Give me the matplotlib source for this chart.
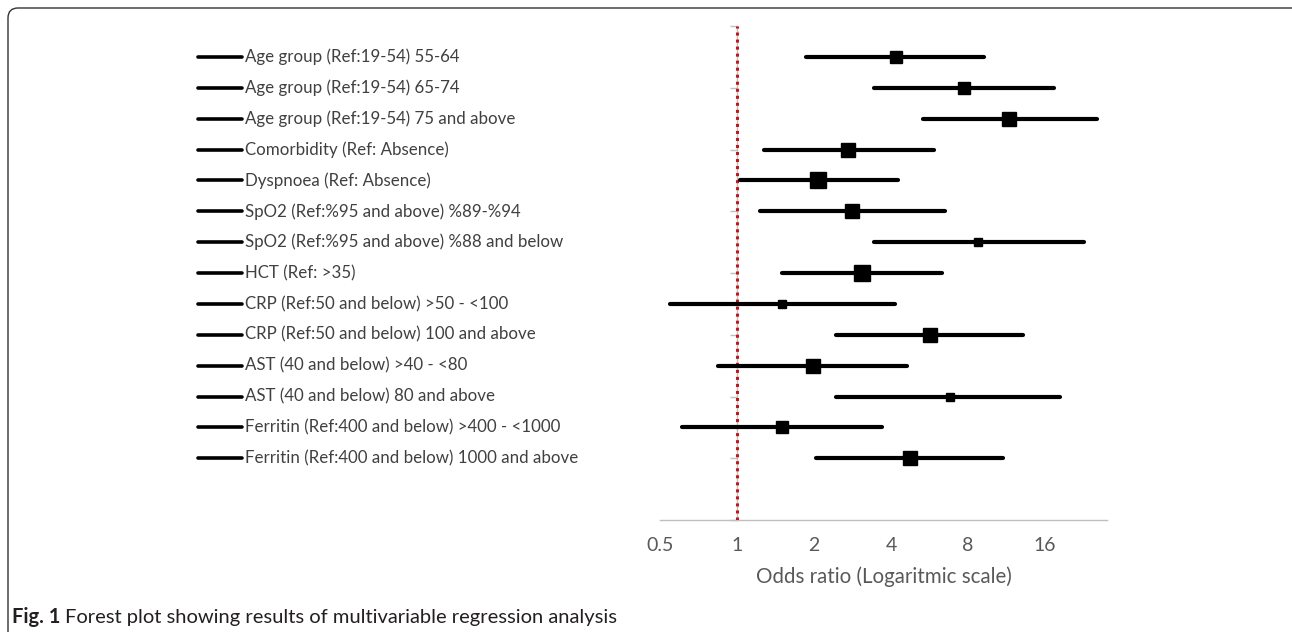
import numpy as np
import matplotlib
matplotlib.use("Agg")
import matplotlib.pyplot as plt
import matplotlib.transforms as mtransforms
from matplotlib.patches import FancyBboxPatch
from matplotlib.ticker import FixedLocator, NullFormatter

plt.rcParams['font.family'] = ['Lato', 'DejaVu Sans']

# data
labels = [
    "Age group (Ref:19-54) 55-64",
    "Age group (Ref:19-54) 65-74",
    "Age group (Ref:19-54) 75 and above",
    "Comorbidity (Ref: Absence)",
    "Dyspnoea (Ref: Absence)",
    "SpO2 (Ref:%95 and above) %89-%94",
    "SpO2 (Ref:%95 and above) %88 and below",
    "HCT (Ref: >35)",
    "CRP (Ref:50 and below) >50 - <100",
    "CRP (Ref:50 and below) 100 and above",
    "AST (40 and below) >40 - <80",
    "AST (40 and below) 80 and above",
    "Ferritin (Ref:400 and below) >400 - <1000",
    "Ferritin (Ref:400 and below) 1000 and above",
]
odds = [4.17, 7.70, 11.6, 2.73, 2.08, 2.81, 8.73, 3.07, 1.50, 5.67, 1.98, 6.78, 1.50, 4.73]
ci_low = [1.87, 3.45, 5.32, 1.27, 1.03, 1.23, 3.45, 1.50, 0.545, 2.45, 0.84, 2.43, 0.61, 2.03]
ci_high = [9.22, 17.3, 25.5, 5.88, 4.25, 6.49, 22.7, 6.32, 4.14, 13.1, 4.61, 18.3, 3.68, 11.0]
box_size = [8.1, 8.1, 9.9, 9.9, 11.3, 9.9, 6.0, 11.0, 6.0, 10.0, 9.9, 6.2, 8.4, 10.0]
row_pos = np.arange(15, 1, -1)

x_ticks = [0.5, 1, 2, 4, 8, 16]

W, H = 1292, 632
fig = plt.figure(figsize=(W / 100, H / 100), dpi=100)

# rounded frame around the figure (pixel coordinates)
frame = FancyBboxPatch((8, -30), W + 30, H - 8 + 30,
                       boxstyle="round,pad=0,rounding_size=10",
                       transform=mtransforms.IdentityTransform(), fill=False,
                       edgecolor="#333333", linewidth=1.0)
fig.patches.append(frame)

ax = fig.add_axes([660 / W, 1 - 520 / H, (1107 - 660) / W, (520 - 26) / H])
ax.set_xscale("log", base=2)
ax.set_xlim(0.5, 28)
ax.set_ylim(0, 16)

grey = "#bfbfbf"
for s in ["top", "right"]:
    ax.spines[s].set_visible(False)
ax.spines["bottom"].set_color(grey)
ax.spines["bottom"].set_linewidth(1.0)
ax.spines["left"].set_position(("data", 1))
ax.spines["left"].set_color(grey)
ax.spines["left"].set_linewidth(1.0)

ax.xaxis.set_major_locator(FixedLocator(x_ticks))
ax.xaxis.set_minor_locator(FixedLocator([]))
ax.set_xticklabels([("%g" % t) for t in x_ticks])
ax.tick_params(axis="x", length=0, pad=12, labelsize=14, labelcolor="#595959")
ax.yaxis.set_major_locator(FixedLocator(np.arange(0, 17, 2)))
ax.yaxis.set_major_formatter(NullFormatter())
ax.tick_params(axis="y", length=5, color=grey, width=1.0)
ax.set_xlabel("Odds ratio (Logaritmic scale)", fontsize=14.8, color="#595959", labelpad=9)

# reference line at OR = 1
ax.axvline(1, color="#c0181b", lw=2.2, linestyle=(0, (1, 1.3)), zorder=3)

for y, o, lo, hi, ms in zip(row_pos, odds, ci_low, ci_high, box_size):
    ax.plot([lo, hi], [y, y], color="black", lw=3, solid_capstyle="round", zorder=4)
    ax.plot([o], [y], marker="s", ms=ms, color="black", lw=0, zorder=5)

# legend-style labels on the left
trans = mtransforms.blended_transform_factory(fig.transFigure, ax.transData)
for y, lab in zip(row_pos, labels):
    ax.plot([198 / W, 242 / W], [y, y], transform=trans, color="black", lw=2.6,
            solid_capstyle="round", clip_on=False)
    ax.text(245 / W, y, lab, transform=trans, fontsize=12.2, color="#404040",
            va="center", ha="left", clip_on=False)

# caption: bold "Fig. 1" followed by regular text
cap_y = 1 - 617 / H
t1 = fig.text(12 / W, cap_y, "Fig. 1", fontsize=14.5, fontweight="bold",
              color="#231f20", va="center", ha="left")
fig.canvas.draw()
bb = t1.get_window_extent()
fig.text((bb.x1 + 5) / W, cap_y, "Forest plot showing results of multivariable regression analysis",
         fontsize=14.5, color="#231f20", va="center", ha="left")

fig.savefig("out.png", dpi=100)
